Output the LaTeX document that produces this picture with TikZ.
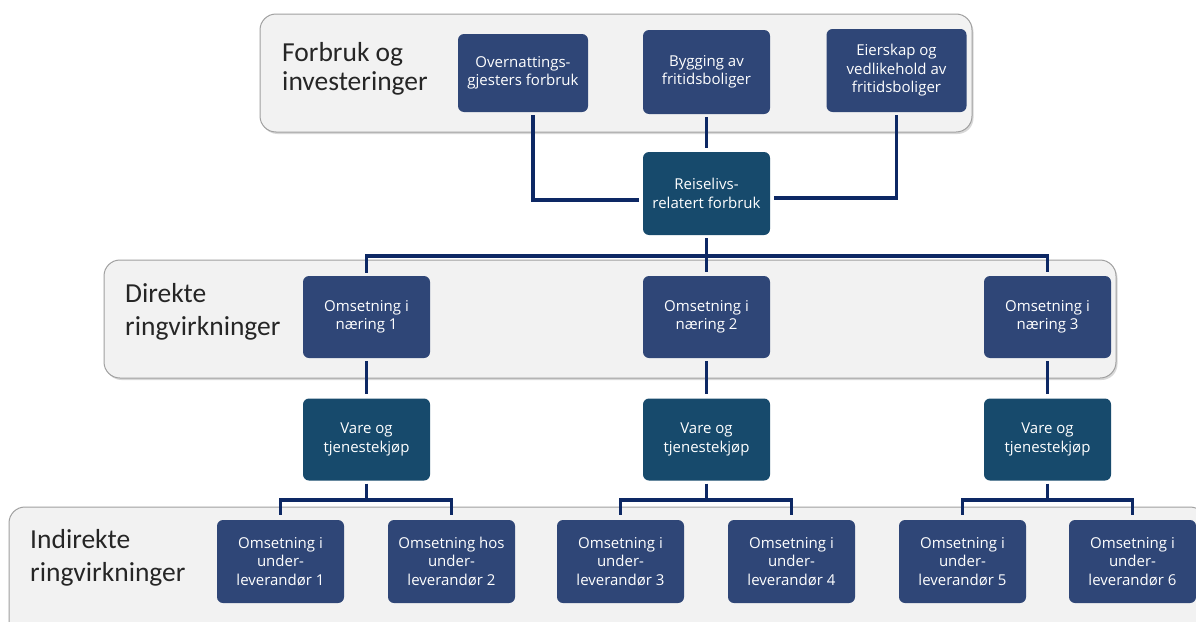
\documentclass[tikz,border=0pt]{standalone}
\usepackage{fontspec}
\setmainfont{Carlito}
\newfontfamily\boxfont{Open Sans}
\usetikzlibrary{shadows}
\definecolor{boxblue}{HTML}{2F4677}
\definecolor{boxteal}{HTML}{174A6C}
\definecolor{linkblue}{HTML}{0D2864}
\definecolor{bandgrey}{HTML}{F2F2F2}
\definecolor{bandline}{HTML}{A0A0A0}
\tikzstyle{band} = [draw=bandline, fill=bandgrey, line width=1pt, rounded corners=16pt,
                    drop shadow={shadow xshift=1.5pt, shadow yshift=-2pt, opacity=0.25, fill=black!60}]
\tikzstyle{heading} = [anchor=west, align=left, inner sep=0, text=black!85,
                       font=\fontsize{27.5}{33}\selectfont]
\tikzstyle{unit} = [rectangle, rounded corners=6pt, fill=boxblue, text=white, align=center, inner sep=0,
                    minimum width=127pt, minimum height=83pt, font=\boxfont\fontsize{15}{18.4}\selectfont]
\tikzstyle{hub} = [unit, fill=boxteal]
\tikzstyle{link} = [draw=linkblue, line width=3.3pt, shorten <=3pt, shorten >=4pt]

\begin{document}
\begin{tikzpicture}[x=1pt, y=-1pt]
	\useasboundingbox (0, 0) rectangle (1196, 621);
	\clip (0, 0) rectangle (1196, 621);
	\fill [white] (0, 0) rectangle (1196, 621);

	% the three bands
	\path [band] (260, 14) rectangle (972, 132);
	\path [band] (104, 260) rectangle (1116, 378);
	\path [band] (9, 507) rectangle (1206, 660);

	\node (UseLabel) [heading, font=\fontsize{27.5}{29.5}\selectfont] at (282, 69) {Forbruk og\\investeringer};
	\node (DirectLabel) [heading] at (125, 312) {Direkte\\ringvirkninger};
	\node (IndirectLabel) [heading] at (30, 558) {Indirekte\\ringvirkninger};

	% spending and investments
	\node (Guest) [unit, minimum width=130pt, minimum height=78pt] at (523, 73) {Overnattings-\\gjesters forbruk};
	\node (Build) [unit, minimum height=84pt] at (706.5, 72) {Bygging av\\fritidsboliger};
	\node (Owner) [unit, minimum width=140pt] at (896.5, 70.5) {Eierskap og\\vedlikehold av\\fritidsboliger};

	\node (Hub) [hub] at (706.5, 193.5) {Reiselivs-\\relatert forbruk};
	\draw [link] ([xshift=10pt]Guest.south) |- ([yshift=-6.5pt]Hub.west);
	\draw [link] (Build) -- (Hub);
	\draw [link] (Owner.south) |- ([yshift=-4.5pt]Hub.east);

	% direct effects
	\node (Trade1) [unit, minimum height=82pt] at (366.5, 317) {Omsetning i\\næring 1};
	\node (Trade2) [unit, minimum height=82pt] at (706.5, 317) {Omsetning i\\næring 2};
	\node (Trade3) [unit, minimum height=82pt] at (1047.5, 317) {Omsetning i\\næring 3};

	\coordinate (HubSplit) at (706.5, 256);
	\draw [link] (Hub) -- (Trade2);
	\draw [link] (Trade1.north) |- (HubSplit) -| (Trade3.north);

	% purchases
	\node (Buy1) [hub, minimum height=82pt] at (366.5, 439.5) {Vare og\\tjenestekjøp};
	\node (Buy2) [hub, minimum height=82pt] at (706.5, 439.5) {Vare og\\tjenestekjøp};
	\node (Buy3) [hub, minimum height=82pt] at (1047.5, 439.5) {Vare og\\tjenestekjøp};
	\draw [link] (Trade1) -- (Buy1);
	\draw [link] (Trade2) -- (Buy2);
	\draw [link] (Trade3) -- (Buy3);

	% indirect effects
	\node (Sub1) [unit] at (280.5, 561.5) {Omsetning i\\under-\\leverandør 1};
	\node (Sub2) [unit] at (451.5, 561.5) {Omsetning hos\\under-\\leverandør 2};
	\node (Sub3) [unit] at (620.5, 561.5) {Omsetning i\\under-\\leverandør 3};
	\node (Sub4) [unit] at (791.5, 561.5) {Omsetning i\\under-\\leverandør 4};
	\node (Sub5) [unit] at (962.5, 561.5) {Omsetning i\\under-\\leverandør 5};
	\node (Sub6) [unit] at (1132.5, 561.5) {Omsetning i\\under-\\leverandør 6};

	\coordinate (Split1) at (366.5, 500);
	\draw [link, shorten >=0pt] (Buy1) -- (Split1);
	\draw [link, shorten <=5pt, shorten >=5pt] (Sub1.north) |- (Split1) -| (Sub2.north);

	\coordinate (Split2) at (706.5, 500);
	\draw [link, shorten >=0pt] (Buy2) -- (Split2);
	\draw [link, shorten <=5pt, shorten >=5pt] (Sub3.north) |- (Split2) -| (Sub4.north);

	\coordinate (Split3) at (1047.5, 500);
	\draw [link, shorten >=0pt] (Buy3) -- (Split3);
	\draw [link, shorten <=5pt, shorten >=5pt] (Sub5.north) |- (Split3) -| (Sub6.north);
\end{tikzpicture}
\end{document}
